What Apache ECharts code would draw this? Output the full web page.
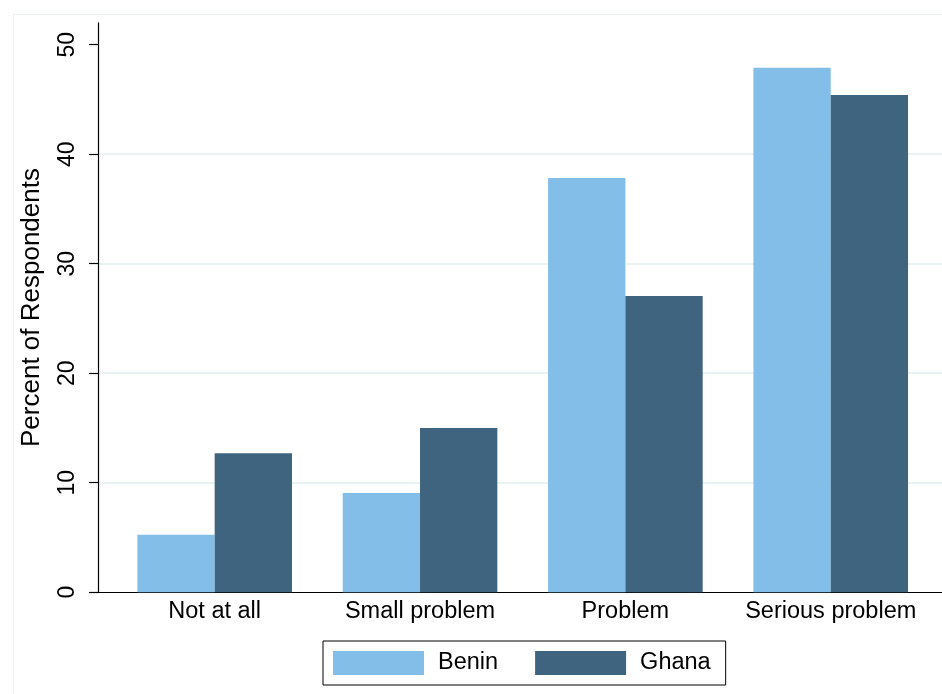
<!DOCTYPE html>
<html>
<head>
<meta charset="utf-8">
<script src="https://cdn.jsdelivr.net/npm/echarts@6/dist/echarts.min.js"></script>
<style>
html,body{margin:0;padding:0;background:#fff;}
#chart{width:942px;height:694px;}
</style>
</head>
<body>
<div id="chart"></div>
<script>
const categories = ["Not at all", "Small problem", "Problem", "Serious problem"];
const benin = [5.25, 9.05, 37.83, 47.9];
const ghana = [12.7, 15.0, 27.05, 45.4];
const yTicks = [0, 10, 20, 30, 40, 50];
const seriesNames = ["Benin", "Ghana"];

const font = "'Liberation Sans', Arial, Helvetica, sans-serif";
const chart = echarts.init(document.getElementById('chart'), null, {renderer: 'canvas'});
const gridCol = '#EAF2F3';
chart.setOption({
  animation: false,
  backgroundColor: '#ffffff',
  textStyle: {fontFamily: font},
  graphic: [{
    type: 'rect', left: 11, top: 12, shape: {width: 940, height: 700},
    style: {fill: 'none', stroke: gridCol, lineWidth: 1}, silent: true
  }],
  legend: {
    data: seriesNames,
    left: 323, top: 641,
    orient: 'horizontal',
    itemWidth: 91, itemHeight: 24, itemGap: 37,
    padding: [10, 15, 10, 10],
    borderColor: '#000', borderWidth: 1, borderRadius: 0,
    icon: 'rect',
    itemStyle: {borderWidth: 0},
    textStyle: {fontSize: 23.5, color: '#000', fontFamily: font, padding: [0, 0, 0, 9]}
  },
  grid: [
    {left: 98, right: 0, top: 22.8, bottom: 101.8, containLabel: false},
    {left: 112, right: 8.6, top: 22.8, bottom: 101.8, containLabel: false}
  ],
  xAxis: [
    {type: 'value', gridIndex: 0, min: 0, max: 1,
     axisLine: {show: true, onZero: false, lineStyle: {color: '#000', width: 1.2}},
     axisTick: {show: false}, axisLabel: {show: false}, splitLine: {show: false}},
    {type: 'category', gridIndex: 1, data: categories,
     axisLine: {show: false}, axisTick: {show: false}, splitLine: {show: false},
     axisLabel: {fontSize: 23.5, color: '#000', margin: 7, fontFamily: font, interval: 0}}
  ],
  yAxis: [
    {type: 'value', gridIndex: 0, min: 0, max: 52,
     name: 'Percent of Respondents', nameLocation: 'middle', nameGap: 53,
     nameRotate: 90,
     nameTextStyle: {fontSize: 26, color: '#000', fontFamily: font},
     axisLine: {show: true, lineStyle: {color: '#000', width: 1.2}},
     axisTick: {show: true, length: 9, customValues: yTicks, lineStyle: {color: '#000', width: 1.2}},
     axisLabel: {customValues: yTicks, rotate: 90, fontSize: 23, color: '#000', margin: 19, fontFamily: font},
     splitLine: {show: true, showMaxLine: false, showMinLine: false, lineStyle: {color: gridCol, width: 2}}},
    {type: 'value', gridIndex: 1, min: 0, max: 52, show: false, splitLine: {show: false}}
  ],
  series: [
    {name: seriesNames[0], type: 'bar', xAxisIndex: 1, yAxisIndex: 1, data: benin,
     barGap: '0%', barCategoryGap: '24.7%', itemStyle: {color: '#83BEE9'}},
    {name: seriesNames[1], type: 'bar', xAxisIndex: 1, yAxisIndex: 1, data: ghana,
     barGap: '0%', barCategoryGap: '24.7%', itemStyle: {color: '#3E6480'}}
  ]
});
</script>
</body>
</html>
